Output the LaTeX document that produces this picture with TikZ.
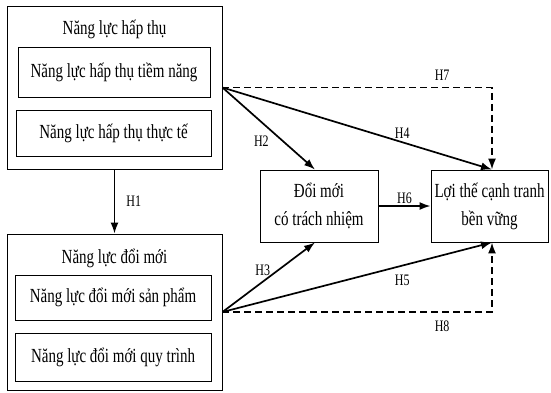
\documentclass[tikz,border=0pt]{standalone}
\usepackage{fontspec}
\setmainfont[FakeStretch=0.75]{Liberation Serif}
\usetikzlibrary{arrows.meta, positioning}

\begin{document}
\begin{tikzpicture}[
    x=1pt, y=-1pt,
    every node/.style={font=\fontsize{20}{28}\selectfont},
    box/.style    ={rectangle, draw, line width=0.9pt, inner sep=0pt, align=center},
    title/.style  ={inner sep=0pt},
    hyp/.style    ={-{Latex[length=11pt,width=8pt]}, line width=1.7pt},
    hypdash/.style={-{Latex[length=11pt,width=8pt]}, line width=1.7pt, dash pattern=on 7pt off 4pt},
    lbl/.style    ={font=\fontsize{16}{18}\selectfont, inner sep=1pt}
]
\useasboundingbox (0,0) rectangle (551,392);

% absorptive capacity
\node [box, minimum width=215pt, minimum height=163pt] (hapthu) at (114.5,87.5) {};
\node [title] (hapthuT) at (114.5,29) {Năng lực hấp thụ};
\node [box, minimum width=192pt, minimum height=50pt] (tiemnang) at (114,72) {Năng lực hấp thụ tiềm năng};
\node [box, minimum width=195pt, minimum height=46pt] (thucte) at (113.5,133) {Năng lực hấp thụ thực tế};

% innovation capacity
\node [box, minimum width=215pt, minimum height=156pt] (doimoi) at (114.5,312) {};
\node [title] (doimoiT) at (114.5,258) {Năng lực đổi mới};
\node [box, minimum width=196pt, minimum height=45pt] (sanpham) at (113,297.5) {Năng lực đổi mới sản phẩm};
\node [box, minimum width=196pt, minimum height=48pt] (quytrinh) at (113,357) {Năng lực đổi mới quy trình};

% mediator and outcome
\node [box, minimum width=118pt, minimum height=72pt] (trachnhiem) at (319,206) {Đổi mới\\có trách nhiệm};
\node [box, minimum width=117pt, minimum height=72pt] (loithe) at (489.5,206) {Lợi thế cạnh tranh\\bền vững};

\coordinate (topin) at ([xshift=2.5pt]loithe.north);
\coordinate (botin) at ([xshift=2.5pt]loithe.south);

% hypotheses
\draw [hyp] (hapthu.south) -- node [lbl, right=10pt] {H1} (doimoi.north);
\draw [hyp] (hapthu.east) -- node [lbl, pos=0.66, left=13pt] {H2} ([xshift=-4pt]trachnhiem.north);
\draw [hyp] (doimoi.east) -- node [lbl, pos=0.6, left=6pt] {H3} ([xshift=-4pt]trachnhiem.south);
\draw [hyp] (hapthu.east) -- node [lbl, pos=0.667, above=2pt] {H4} (topin);
\draw [hyp] (doimoi.east) -- node [lbl, pos=0.667, below=8pt] {H5} (botin);
\draw [hyp] (trachnhiem.east) -- node [lbl, above=1pt] {H6} (loithe.west);
\draw [hypdash] (hapthu.east) -- node [lbl, pos=0.815, above=5pt] {H7} (hapthu.east -| topin) -- (topin);
\draw [hypdash] (doimoi.east) -- node [lbl, pos=0.815, below=7pt] {H8} (doimoi.east -| botin) -- (botin);
\end{tikzpicture}
\end{document}
